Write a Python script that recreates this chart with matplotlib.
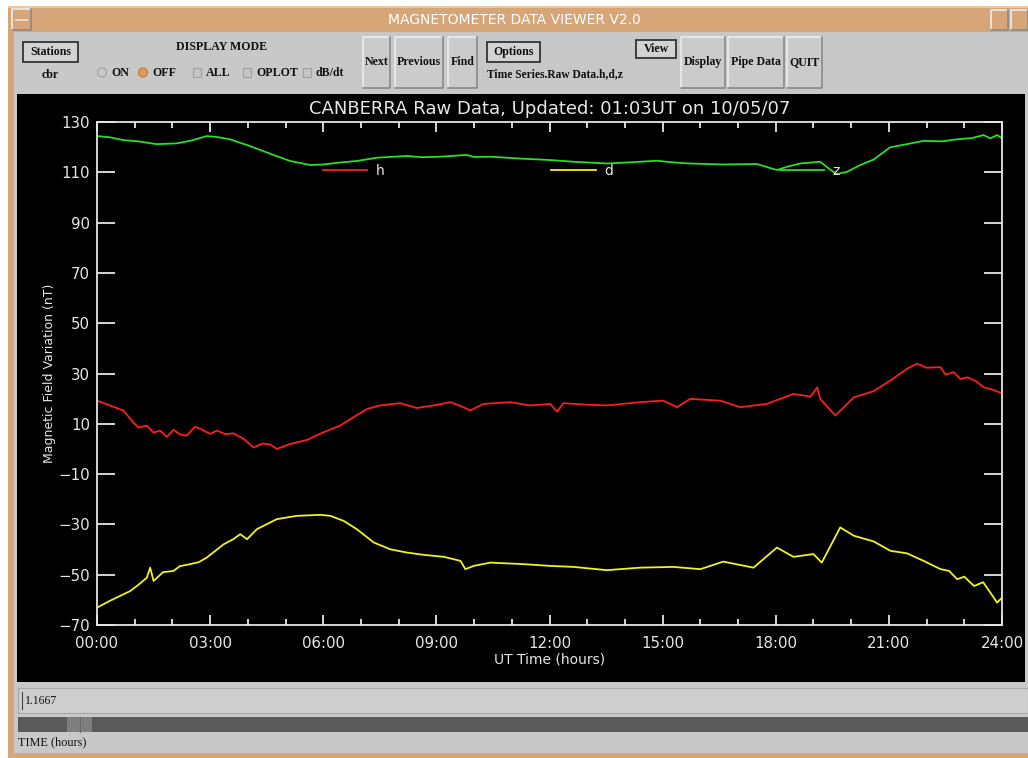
import matplotlib
matplotlib.use("Agg")
import matplotlib.pyplot as plt
from matplotlib.patches import Rectangle, Circle

# readings (hours UT, nT)
z_t = [0, 0.35, 0.70, 1.1, 1.58, 2.11, 2.5, 2.91, 3.2, 3.53, 4.06, 4.68, 5.12, 5.66, 6.0,
       6.45, 6.89, 7.42, 8.22, 8.6, 9.1, 9.8, 10.0, 10.42, 11.3, 12.0, 12.63, 13.52, 14.2,
       14.85, 15.3, 15.73, 16.61, 17.5, 18.03, 18.3, 18.65, 19.18, 19.44, 19.62, 19.89,
       20.24, 20.6, 21.03, 21.48, 21.92, 22.4, 22.8, 23.2, 23.51, 23.69, 23.87, 24.0]
z_v = [124.4, 123.9, 122.8, 122.3, 121.2, 121.5, 122.6, 124.4, 124.0, 123.1, 120.4, 116.9,
       114.5, 112.9, 113.1, 113.9, 114.5, 115.8, 116.5, 116.0, 116.2, 116.9, 116.1, 116.2,
       115.4, 114.9, 114.2, 113.5, 114.0, 114.6, 113.9, 113.5, 113.1, 113.3, 110.9, 112.2,
       113.5, 114.2, 111.1, 109.3, 110.2, 112.9, 115.1, 119.9, 121.2, 122.5, 122.3, 123.1,
       123.6, 124.8, 123.5, 124.8, 123.5]

h_t = [0, 0.34, 0.70, 0.96, 1.1, 1.32, 1.5, 1.67, 1.85, 2.03, 2.2, 2.38, 2.6, 2.83, 3.0,
       3.18, 3.4, 3.62, 3.89, 4.15, 4.4, 4.6, 4.77, 5.13, 5.57, 6.0, 6.45, 6.8, 7.16, 7.51,
       8.04, 8.48, 8.93, 9.37, 9.72, 9.9, 10.25, 10.96, 11.49, 12.02, 12.2, 12.37, 13.0,
       13.52, 14.4, 15.02, 15.38, 15.73, 16.53, 17.06, 17.76, 18.47, 18.92, 19.1, 19.18,
       19.58, 20.07, 20.6, 21.04, 21.48, 21.75, 22.0, 22.37, 22.5, 22.72, 22.9, 23.08, 23.3,
       23.52, 23.75, 24.0]
h_v = [19.2, 17.3, 15.3, 10.6, 8.5, 9.3, 6.5, 7.3, 4.8, 7.6, 5.8, 5.3, 8.9, 7.3, 6.0, 7.3,
       5.9, 6.2, 4.0, 0.6, 2.2, 1.7, 0.0, 2.0, 3.6, 6.6, 9.3, 12.6, 15.9, 17.3, 18.2, 16.3,
       17.3, 18.6, 16.6, 15.3, 17.9, 18.6, 17.3, 17.9, 14.8, 18.2, 17.6, 17.3, 18.6, 19.2,
       16.6, 19.9, 19.2, 16.6, 17.9, 21.9, 20.8, 24.5, 19.9, 13.3, 20.5, 23.0, 27.2, 31.9,
       33.9, 32.3, 32.5, 29.6, 30.5, 27.8, 28.5, 27.0, 24.5, 23.6, 22.1]

d_t = [0, 0.34, 0.88, 1.1, 1.32, 1.41, 1.5, 1.75, 2.03, 2.2, 2.47, 2.7, 2.91, 3.36, 3.6,
       3.8, 3.98, 4.24, 4.77, 5.3, 5.92, 6.19, 6.54, 6.89, 7.34, 7.78, 8.22, 8.66, 9.2,
       9.64, 9.77, 9.99, 10.43, 11.31, 12.02, 12.64, 13.52, 14.4, 15.29, 16.0, 16.61,
       17.41, 18.03, 18.47, 19.0, 19.22, 19.71, 20.07, 20.6, 21.04, 21.48, 21.92, 22.37,
       22.6, 22.81, 23.0, 23.26, 23.5, 23.69, 23.87, 24.0]
d_v = [-63.1, -60.4, -56.5, -54.0, -51.2, -47.2, -52.5, -49.0, -48.5, -46.6, -45.8, -45.0,
       -43.2, -37.9, -36.0, -33.9, -35.9, -31.9, -27.9, -26.6, -26.2, -26.6, -28.6, -31.9,
       -37.2, -39.9, -41.2, -42.1, -42.9, -44.5, -47.8, -46.5, -45.2, -45.8, -46.5, -46.9,
       -48.2, -47.2, -46.9, -47.8, -44.8, -47.2, -39.2, -42.9, -41.8, -45.2, -31.2, -34.5,
       -36.8, -40.5, -41.5, -44.5, -47.8, -48.5, -51.8, -50.8, -54.5, -53.0, -57.1, -61.1,
       -59.1]

y_ticks = [-70, -50, -30, -10, 10, 30, 50, 70, 90, 110, 130]
x_ticks = [0, 3, 6, 9, 12, 15, 18, 21, 24]
x_labels = ["00:00", "03:00", "06:00", "09:00", "12:00", "15:00", "18:00", "21:00", "24:00"]

W, H = 1028, 758
TAN = "#d6a679"
GRAY = "#c8c8c8"
FG = "#e6e6e6"
GUI_FONT = "Liberation Serif"

fig = plt.figure(figsize=(W / 100, H / 100), dpi=100, facecolor="white")

# window chrome drawn in pixel coordinates
bg = fig.add_axes([0, 0, 1, 1])
bg.set_xlim(0, W)
bg.set_ylim(H, 0)
bg.axis("off")


def rect(x0, y0, x1, y1, face, edge="none", lw=0):
    bg.add_patch(Rectangle((x0, y0), x1 - x0, y1 - y0, facecolor=face,
                           edgecolor=edge, linewidth=lw))


def bevel(x0, y0, x1, y1, face="#cbcbcb"):
    rect(x0, y0, x1, y1, face)
    bg.plot([x0, x0, x1], [y1, y0, y0], color="#ececec", lw=1.2)
    bg.plot([x0, x1, x1], [y1, y1, y0], color="#8a8a8a", lw=1.2)


def gui_text(x, y, s, ha="left", bold=True, size=8.6):
    bg.text(x, y, s, ha=ha, va="center", fontsize=size, family=GUI_FONT,
            fontweight="bold" if bold else "normal", color="#111111")


def boxed(x0, y0, x1, y1, label):
    rect(x0, y0, x1, y1, "#d2d2d2", edge="#333333", lw=1.3)
    gui_text((x0 + x1) / 2, (y0 + y1) / 2, label, ha="center")


rect(8, 6, W, H, TAN)
rect(8, 6, W, 8, "#e8c7a5")
rect(14, 32, W, 753, GRAY)
bevel(12, 9, 31, 30, TAN)
bg.plot([16, 27], [19.5, 19.5], color="#f4e4d4", lw=1.2)
bevel(991, 10, 1008, 30, TAN)
bevel(1011, 10, W, 30, TAN)
bg.text(514, 19.5, "MAGNETOMETER DATA VIEWER V2.0", ha="center", va="center",
        fontsize=10, color="white", family="DejaVu Sans")

# toolbar
boxed(23, 42, 78, 62, "Stations")
gui_text(50, 75, "cbr", ha="center")
gui_text(222, 47, "DISPLAY MODE", ha="center")
bg.add_patch(Circle((102, 72.5), 4.5, facecolor="#c8c8c8", edgecolor="#a0a0a0", lw=0.8))
gui_text(111, 73, "ON")
bg.add_patch(Circle((143, 72.5), 4.5, facecolor="#e89a55", edgecolor="#b87a45", lw=0.8))
gui_text(152, 73, "OFF")
for bx, lab in [(197, "ALL"), (247, "OPLOT"), (307, "dB/dt")]:
    rect(bx - 4, 68, bx + 4, 77, "#c4c4c4", edge="#a0a0a0", lw=0.8)
    gui_text(bx + 9, 73, lab)
for x0, x1, lab in [(363, 390, "Next"), (395, 443, "Previous"), (448, 477, "Find"),
                    (681, 725, "Display"), (728, 784, "Pipe Data"), (787, 822, "QUIT")]:
    bevel(x0, 37, x1, 88)
    gui_text((x0 + x1) / 2, 62, lab, ha="center")
boxed(487, 42, 540, 62, "Options")
gui_text(487, 74, "Time Series.Raw Data.h,d,z", size=8.3)
boxed(636, 40, 676, 58, "View")

# lower controls
rect(17, 94, 1025, 682, "black")
rect(18, 688, W, 713, "#cecece", edge="#a8a8a8", lw=0.8)
bg.plot([22, 22], [692, 709], color="#444444", lw=0.8)
gui_text(25, 701, "1.1667", bold=False, size=8.5)
rect(18, 717, W, 732, "#5a5a5a")
rect(67, 717, 92, 732, "#7e7e7e")
bg.plot([79.5, 79.5], [717, 732], color="#6a6a6a", lw=0.8)
gui_text(18, 742, "TIME (hours)", bold=False, size=8.8)

# plot
ax = fig.add_axes([97 / W, 1 - 625 / H, 905 / W, 503 / H])
ax.set_facecolor("black")
ax.plot(h_t, h_v, color="#ff1c1c", lw=1.3, label="h")
ax.plot(d_t, d_v, color="#f2f21c", lw=1.3, label="d")
ax.plot(z_t, z_v, color="#26e026", lw=1.3, label="z")
ax.set_xlim(0, 24)
ax.set_ylim(-70, 130)
ax.set_xticks(x_ticks)
ax.set_xticklabels(x_labels)
ax.set_xticks(range(25), minor=True)
ax.set_yticks(y_ticks)
for s in ax.spines.values():
    s.set_color(FG)
    s.set_linewidth(1.3)
ax.tick_params(axis="both", which="both", direction="in", colors=FG,
               labelcolor=FG, top=True, right=True, width=1.3, labelsize=10.8)
ax.tick_params(axis="y", which="major", length=13, pad=5)
ax.tick_params(axis="x", which="major", length=7, pad=8)
ax.tick_params(axis="x", which="minor", length=4)
ax.set_title("CANBERRA Raw Data, Updated: 01:03UT on 10/05/07", color=FG,
             fontsize=13, pad=6)
ax.set_xlabel("UT Time (hours)", color=FG, fontsize=10, labelpad=1)
ax.set_ylabel("Magnetic Field Variation (nT)", color=FG, fontsize=9, labelpad=2)

leg = ax.legend(ncol=3, frameon=False, loc="center left",
                bbox_to_anchor=(323 / W, 1 - 171 / H), bbox_transform=fig.transFigure,
                borderpad=0, borderaxespad=0, handlelength=3.2, handletextpad=0.6,
                columnspacing=12.0, fontsize=10, labelcolor=FG)

fig.savefig("out.png", dpi=100, facecolor=fig.get_facecolor())
